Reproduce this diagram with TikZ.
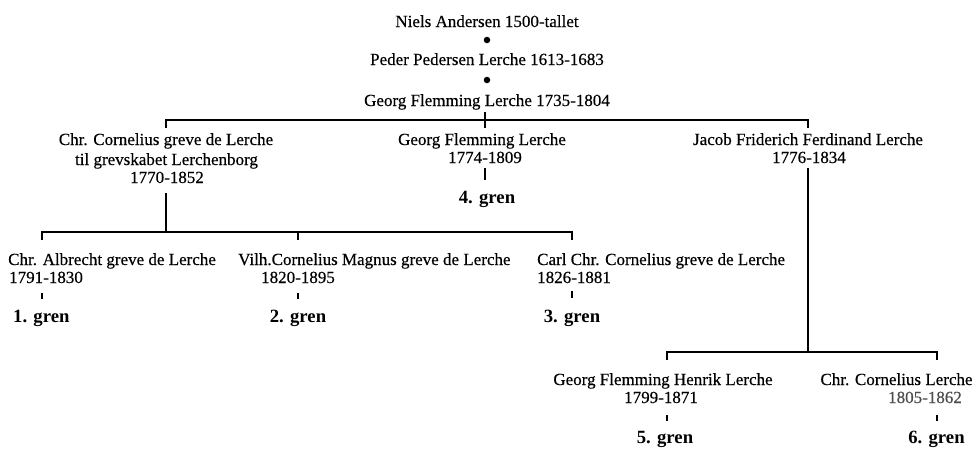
\documentclass[tikz,border=0pt]{standalone}
\usepackage{fontspec}
\setmainfont{Liberation Serif}[UprightFeatures={FakeBold=0.4}]
\begin{document}
\begin{tikzpicture}[x=1pt,y=-1pt,
  txt/.style={inner sep=0pt, anchor=base, font=\fontsize{17}{19}\selectfont},
  txtl/.style={txt, anchor=base west},
  gren/.style={inner sep=0pt, anchor=base, font=\fontsize{18.7}{20}\selectfont\bfseries},
  dot/.style={circle, fill=black, inner sep=0pt, minimum size=6.5pt},
  ln/.style={line width=1.4pt},
  tk/.style={line width=1.2pt}]
\useasboundingbox (0,0) rectangle (974,448);

% top chain
\node[txt] (n1) at (487,27) {Niels Andersen 1500-tallet};
\node[dot] (dot1) at (487,40) {};
\node[txt] (n2) at (487,65) {Peder Pedersen Lerche 1613-1683};
\node[dot] (dot2) at (487,80) {};
\node[txt] (n3) at (487,106) {Georg Flemming Lerche 1735-1804};

% junctions
\coordinate (t0) at (485,112);
\coordinate (t1) at (485,128);
\coordinate (tl) at (166,120);
\coordinate (tr) at (808,120);
\draw[ln] ([yshift=-8pt]tl) -- (tl) -- (tr) -- ([yshift=-8pt]tr);
\draw[tk] (t0) -- (t1);

% row 2
\node[txt] (a1) at (166,145) {Chr. Cornelius greve de Lerche};
\node[txt] (a2) at (166.5,165) {til grevskabet Lerchenborg};
\node[txt] (a3) at (167,183) {1770-1852};
\node[txt] (b1) at (482,145) {Georg Flemming Lerche};
\node[txt] (b2) at (485,163) {1774-1809};
\coordinate (b3) at (485,168);
\coordinate (b4) at (485,180);
\draw[tk] (b3) -- (b4);
\node[gren] (g4) at (487,203) {4. gren};
\node[txt] (c1) at (808,145) {Jacob Friderich Ferdinand Lerche};
\node[txt] (c2) at (809,163) {1776-1834};

% Chr. Cornelius branch
\coordinate (a4) at (166,193);
\coordinate (a5) at (166,232);
\draw[ln] (a4) -- (a5);
\coordinate (ml) at (42,232);
\coordinate (mm) at (298,232);
\coordinate (mr) at (572,232);
\draw[ln] ([yshift=-8pt]ml) -- (ml) -- (mr) -- ([yshift=-8pt]mr);
\draw[tk] (mm) -- ([yshift=-8pt]mm);

% Jacob branch
\coordinate (c3) at (808,168);
\coordinate (c4) at (808,352);
\draw[ln] (c3) -- (c4);
\coordinate (bl) at (667,352);
\coordinate (br) at (937,352);
\draw[ln] ([yshift=-8pt]bl) -- (bl) -- (br) -- ([yshift=-8pt]br);

% row 3
\node[txtl] (e1) at (8,265) {Chr. Albrecht greve de Lerche};
\node[txtl] (e2) at (9,283) {1791-1830};
\draw[tk] (42,293) coordinate (e3) -- (42,299) coordinate (e4);
\node[gren, anchor=base west] (g1) at (13,322) {1. gren};

\node[txtl] (f1) at (238,265) {Vilh.Cornelius Magnus greve de Lerche};
\node[txt] (f2) at (298,283) {1820-1895};
\draw[tk] (298,293) coordinate (f3) -- (298,299) coordinate (f4);
\node[gren] (g2) at (298,322) {2. gren};

\node[txtl] (h1) at (537,265) {Carl Chr. Cornelius greve de Lerche};
\node[txtl] (h2) at (537,283) {1826-1881};
\draw[tk] (572,291) coordinate (h3) -- (572,298) coordinate (h4);
\node[gren] (g3) at (572,322) {3. gren};

% row 4
\node[txt] (i1) at (663,385) {Georg Flemming Henrik Lerche};
\node[txt] (i2) at (661,403) {1799-1871};
\draw[tk] (667,415) coordinate (i3) -- (667,421) coordinate (i4);
\node[gren] (g5) at (665,443) {5. gren};

\node[txt] (k1) at (896.5,385) {Chr. Cornelius Lerche};
\node[txt, text=black!70] (k2) at (925,403) {1805-1862};
\draw[tk] (937,415) coordinate (k3) -- (937,421) coordinate (k4);
\node[gren] (g6) at (936.5,443) {6. gren};
\end{tikzpicture}
\end{document}
